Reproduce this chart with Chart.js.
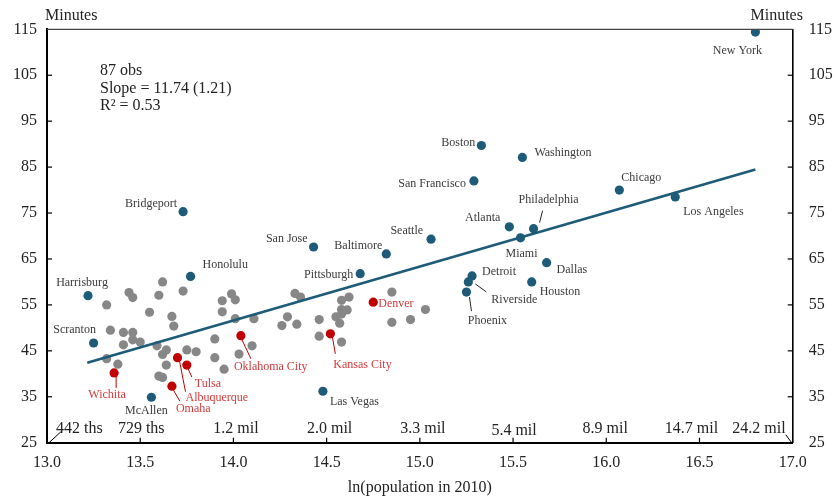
<!DOCTYPE html>
<html>
<head>
<meta charset="utf-8">
<script src="https://cdn.jsdelivr.net/npm/chart.js@4"></script>
<style>
  html, body { margin: 0; padding: 0; background: #ffffff; }
  #wrap { width: 836px; height: 496px; }
</style>
</head>
<body>
<div id="wrap"><canvas id="c" width="836" height="496"></canvas></div>
<script>
// ---------------- DATA ----------------
const grayX = [13.32,13.44,13.46,13.34,13.41,13.46,13.41,13.46,13.50,13.32,13.38,13.55,13.60,13.62,13.73,13.67,13.68,13.59,13.64,13.62,13.64,13.60,13.62,13.75,13.80,13.90,13.90,13.95,13.94,13.94,13.99,14.01,14.01,14.11,14.03,14.10,14.26,14.29,14.33,14.34,14.36,14.46,14.46,14.58,14.62,14.58,14.61,14.55,14.58,14.57,14.58,14.85,14.85,14.95,15.03];
const grayY = [55.0,57.7,56.6,49.5,49.0,49.0,46.3,47.4,46.9,43.3,42.1,53.4,57.1,60.0,58.0,52.5,50.4,46.1,45.2,44.2,41.9,39.5,39.2,45.2,44.8,47.6,43.5,41.0,55.9,53.5,57.4,56.1,52.0,52.0,44.3,46.1,50.5,52.4,57.5,50.8,56.7,51.8,48.2,56.0,56.7,54.0,53.9,52.4,53.0,51.0,46.9,57.8,51.2,51.8,54.0];

const blueNames = ['New York','Boston','Washington','San Francisco','Chicago','Los Angeles','Bridgeport','Atlanta','Philadelphia','Miami','Seattle','San Jose','Baltimore','Dallas','Pittsburgh','Detroit','Honolulu','Riverside','Houston','Phoenix','Harrisburg','Scranton','Las Vegas','McAllen'];
const blueX = [16.80,15.33,15.55,15.29,16.07,16.37,13.73,15.48,15.61,15.54,15.06,14.43,14.82,15.68,14.68,15.28,13.77,15.26,15.60,15.25,13.22,13.25,14.48,13.56];
const blueY = [114.4,89.7,87.1,82.0,80.0,78.5,75.3,72.0,71.6,69.6,69.3,67.6,66.1,64.2,61.8,61.3,61.2,60.0,60.0,57.8,57.0,46.7,36.2,34.9];

const redNames = ['Denver','Kansas City','Oklahoma City','Albuquerque','Tulsa','Wichita','Omaha'];
const redX = [14.75,14.52,14.04,13.70,13.75,13.36,13.67];
const redY = [55.6,48.7,48.3,43.5,41.9,40.2,37.3];

const fitX = [13.216, 16.80];
const fitY = [42.4, 84.5];

const popTicks = [13.0,13.5,14.0,14.5,15.0,15.5,16.0,16.5,17.0];
const popLabels = ['442 ths','729 ths','1.2 mil','2.0 mil','3.3 mil','5.4 mil','8.9 mil','14.7 mil','24.2 mil'];

const statsLines = ['87 obs', 'Slope = 11.74 (1.21)', 'R\u00B2 = 0.53'];

// ---------------- STYLE / LAYOUT ----------------
const SERIF = "'Liberation Serif', 'DejaVu Serif', 'Times New Roman', serif";
const BLUE = '#1d5b78';
const GRAY = '#878787';
const RED = '#c00000';
const RED_TEXT = '#d23a3a';
const TEXT = '#222222';
const LABEL_TEXT = '#3a3a3a';
const POINT_R = 4.6;

// pixel nudges for the population labels [dx, dy]
const popNudge = [[9, 0], [1, 0], [2.5, 0], [3, 0], [3, 0], [1, 2], [-1, 0], [-8, 0], [-7, 0]];

// label offsets in pixels from point: [dx, dy, align, leader(optional: x1,y1,x2,y2)]
const labelLayout = {
  'New York': [-18, 19, 'center'],
  'Boston': [-6, -3, 'right'],
  'Washington': [12, -5, 'left'],
  'San Francisco': [-8, 3, 'right'],
  'Chicago': [22, -12, 'center'],
  'Los Angeles': [8, 15, 'left'],
  'Bridgeport': [-6, -8, 'right'],
  'Atlanta': [-9, -9, 'right'],
  'Philadelphia': [15, -29, 'center', [6, -6, 9, -18]],
  'Miami': [1, 16, 'center'],
  'Seattle': [-8, -8, 'right'],
  'San Jose': [-6, -8, 'right'],
  'Baltimore': [-4, -8, 'right'],
  'Dallas': [10, 7, 'left'],
  'Pittsburgh': [-7, 1, 'right'],
  'Detroit': [10, -4, 'left'],
  'Honolulu': [12, -12, 'left'],
  'Riverside': [23, 18, 'left', [7, 2, 18, 10]],
  'Houston': [8, 10, 'left'],
  'Phoenix': [21, 29, 'center', [3, 5, 5, 19]],
  'Harrisburg': [-6, -13, 'center'],
  'Scranton': [-19, -13, 'center'],
  'Las Vegas': [7, 11, 'left'],
  'McAllen': [-5, 14, 'center'],
  'Denver': [5, 2, 'left'],
  'Kansas City': [3, 31, 'left', [2, 3, 5, 20]],
  'Oklahoma City': [-7, 31, 'left', [1, 4, 10, 23]],
  'Albuquerque': [8, 40, 'left', [2, 3, 8, 34]],
  'Tulsa': [8, 19, 'left', [1, 3, 5, 12]],
  'Wichita': [-7, 22, 'center', [2, 4, 2, 15]],
  'Omaha': [4, 23, 'left', [1, 3, 8, 15]]
};

const toPts = (xs, ys) => xs.map((v, i) => ({x: v, y: ys[i]}));

const decorPlugin = {
  id: 'decor',
  beforeDatasetsDraw(chart) {
    const {ctx, scales: {x, y}} = chart;
    ctx.save();
    ctx.lineWidth = 1;
    const drawLeaders = (names, xs, ys, color) => {
      names.forEach((n, i) => {
        const L = labelLayout[n];
        if (!L || !L[3]) return;
        const px = x.getPixelForValue(xs[i]);
        const py = y.getPixelForValue(ys[i]);
        ctx.strokeStyle = color;
        ctx.beginPath();
        ctx.moveTo(px + L[3][0], py + L[3][1]);
        ctx.lineTo(px + L[3][2], py + L[3][3]);
        ctx.stroke();
      });
    };
    drawLeaders(blueNames, blueX, blueY, '#222222');
    drawLeaders(redNames, redX, redY, RED);
    ctx.restore();
  },
  afterDatasetsDraw(chart) {
    const {ctx, scales: {x, y}} = chart;
    ctx.save();
    ctx.font = '12px ' + SERIF;
    ctx.textBaseline = 'middle';
    const drawLabels = (names, xs, ys, color) => {
      names.forEach((n, i) => {
        const L = labelLayout[n];
        if (!L) return;
        const px = x.getPixelForValue(xs[i]);
        const py = y.getPixelForValue(ys[i]);
        ctx.fillStyle = color;
        ctx.textAlign = L[2];
        ctx.fillText(n, px + L[0], py + L[1]);
      });
    };
    drawLabels(blueNames, blueX, blueY, LABEL_TEXT);
    drawLabels(redNames, redX, redY, RED_TEXT);
    ctx.restore();
  },
  afterDraw(chart) {
    const {ctx, chartArea: a, scales: {x, y}} = chart;
    ctx.save();
    // top frame line
    ctx.strokeStyle = '#444444';
    ctx.lineWidth = 1.2;
    ctx.beginPath();
    ctx.moveTo(a.left, a.top);
    ctx.lineTo(a.right, a.top);
    ctx.stroke();
    // inner ticks
    ctx.strokeStyle = '#000000';
    ctx.lineWidth = 1.2;
    x.ticks.forEach(t => {
      if (t.value <= x.min || t.value >= x.max) return;
      const px = x.getPixelForValue(t.value);
      ctx.beginPath(); ctx.moveTo(px, a.bottom); ctx.lineTo(px, a.bottom - 5); ctx.stroke();
    });
    y.ticks.forEach(t => {
      if (t.value <= y.min || t.value >= y.max) return;
      const py = y.getPixelForValue(t.value);
      ctx.beginPath(); ctx.moveTo(a.left, py); ctx.lineTo(a.left + 5, py); ctx.stroke();
      ctx.beginPath(); ctx.moveTo(a.right, py); ctx.lineTo(a.right - 5, py); ctx.stroke();
    });
    // population labels along bottom
    ctx.font = '16px ' + SERIF;
    ctx.fillStyle = TEXT;
    ctx.textBaseline = 'alphabetic';
    const by = a.bottom - 9.5;
    popTicks.forEach((v, i) => {
      const px = x.getPixelForValue(v);
      const [ndx, ndy] = popNudge[i];
      if (i === 0) {
        ctx.textAlign = 'left';
        ctx.fillText(popLabels[i], px + ndx, by + ndy);
        ctx.lineWidth = 1;
        ctx.beginPath(); ctx.moveTo(px + 2, a.bottom); ctx.lineTo(px + 14, a.bottom - 11); ctx.stroke();
      } else if (i === popTicks.length - 1) {
        ctx.textAlign = 'right';
        ctx.fillText(popLabels[i], px + ndx, by + ndy);
        ctx.lineWidth = 1;
        ctx.beginPath(); ctx.moveTo(px - 1, a.bottom); ctx.lineTo(px - 7, a.bottom - 8); ctx.stroke();
      } else {
        ctx.textAlign = 'center';
        ctx.fillText(popLabels[i], px + ndx, by + ndy);
      }
    });
    // Minutes labels
    ctx.textAlign = 'left';
    ctx.fillText('Minutes', a.left - 2, 20);
    ctx.textAlign = 'center';
    ctx.fillText('Minutes', a.right - 16, 20);
    // stats
    ctx.textAlign = 'left';
    const sy = [75, 92.5, 110];
    statsLines.forEach((s, i) => ctx.fillText(s, 100, sy[i]));
    ctx.restore();
  }
};

new Chart(document.getElementById('c'), {
  type: 'scatter',
  data: {
    datasets: [
      {
        label: 'Named (blue)',
        data: toPts(blueX, blueY),
        backgroundColor: BLUE, borderColor: BLUE,
        pointRadius: POINT_R, pointBorderWidth: 0, order: 0
      },
      {
        label: 'Named (red)',
        data: toPts(redX, redY),
        backgroundColor: RED, borderColor: RED,
        pointRadius: POINT_R, pointBorderWidth: 0, order: 1
      },
      {
        type: 'line',
        label: 'Fit',
        data: toPts(fitX, fitY),
        borderColor: BLUE, borderWidth: 2.6,
        pointRadius: 0, fill: false, order: 2
      },
      {
        label: 'Other',
        data: toPts(grayX, grayY),
        backgroundColor: GRAY, borderColor: GRAY,
        pointRadius: POINT_R, pointBorderWidth: 0, order: 3
      }
    ]
  },
  options: {
    responsive: false,
    animation: false,
    devicePixelRatio: 1,
    layout: { padding: { top: 29.3, left: 0, right: 0, bottom: 0 } },
    plugins: { legend: { display: false }, tooltip: { enabled: false } },
    scales: {
      x: {
        type: 'linear', position: 'bottom', min: 13, max: 17,
        afterFit: s => { s.height = 53.3; },
        ticks: { stepSize: 0.5, padding: 10, color: TEXT, font: { family: SERIF, size: 16 },
          callback: v => Number(v).toFixed(1) },
        grid: { display: false, drawTicks: false },
        border: { display: true, color: '#000000', width: 2 },
        title: { display: true, text: 'ln(population in 2010)', color: TEXT,
          font: { family: SERIF, size: 16, lineHeight: 1 }, padding: { top: 0, bottom: 0 } }
      },
      y: {
        type: 'linear', position: 'left', min: 25, max: 115,
        afterFit: s => { s.width = 47; },
        ticks: { stepSize: 10, padding: 10, color: TEXT, font: { family: SERIF, size: 16 } },
        grid: { display: false, drawTicks: false },
        border: { display: true, color: '#000000', width: 2 }
      },
      y2: {
        type: 'linear', position: 'right', min: 25, max: 115,
        afterFit: s => { s.width = 43.3; },
        ticks: { stepSize: 10, padding: 16, color: TEXT, font: { family: SERIF, size: 16 } },
        grid: { display: false, drawTicks: false },
        border: { display: true, color: '#000000', width: 1.6 }
      }
    }
  },
  plugins: [decorPlugin]
});
</script>
</body>
</html>
